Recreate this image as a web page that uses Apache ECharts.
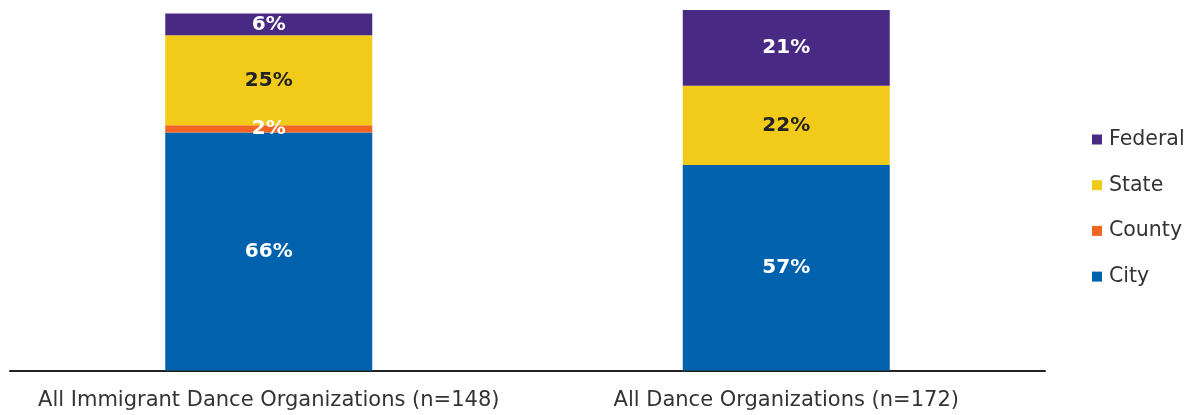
<!DOCTYPE html>
<html>
<head>
<meta charset="utf-8">
<script src="https://cdn.jsdelivr.net/npm/echarts@6/dist/echarts.min.js"></script>
<style>
  html, body { margin: 0; padding: 0; background: #fff; }
  #chart { width: 1190px; height: 415px; }
</style>
</head>
<body>
<div id="chart"></div>
<script>
// Share of public funding by government level
const categories = ['All Immigrant Dance Organizations (n=148)', 'All Dance Organizations (n=172)'];
const cityValues = [66, 57];
const countyValues = [2, 0];
const stateValues = [25, 22];
const federalValues = [6, 21];
const legendOrder = ['Federal', 'State', 'County', 'City'];

const FONT = '"DejaVu Sans", sans-serif';

function stackSeries(name, data, color, labelColor) {
  return {
    name: name,
    type: 'bar',
    stack: 'total',
    barWidth: '40%',
    data: data,
    itemStyle: { color: color },
    label: {
      show: true,
      position: 'inside',
      formatter: p => (p.value > 0 ? p.value + '%' : ''),
      color: labelColor,
      fontFamily: FONT,
      fontWeight: 'bold',
      fontSize: 20
    }
  };
}

const chart = echarts.init(document.getElementById('chart'), null, { renderer: 'canvas' });
chart.setOption({
  animation: false,
  grid: { left: 10, right: 145, top: 10, bottom: 44.5 },
  legend: {
    orient: 'vertical',
    left: 1092,
    top: 129,
    padding: 0,
    itemWidth: 10,
    itemHeight: 10,
    itemGap: 24.7,
    icon: 'rect',
    data: legendOrder,
    textStyle: { fontFamily: FONT, fontSize: 20.5, color: '#333', lineHeight: 20, height: 20, padding: [0, 0, 0, 2] }
  },
  xAxis: {
    type: 'category',
    data: categories,
    axisLine: { lineStyle: { color: '#222', width: 2 } },
    axisTick: { show: false },
    axisLabel: { interval: 0, fontFamily: FONT, fontSize: 21, color: '#333', margin: 20 }
  },
  yAxis: { type: 'value', min: 0, max: 100, show: false },
  series: [
    stackSeries('City', cityValues, '#0062AC', '#fff'),
    stackSeries('County', countyValues, '#F26522', '#fff'),
    stackSeries('State', stateValues, '#F2CB1A', '#222'),
    stackSeries('Federal', federalValues, '#482A84', '#fff')
  ]
});
</script>
</body>
</html>
